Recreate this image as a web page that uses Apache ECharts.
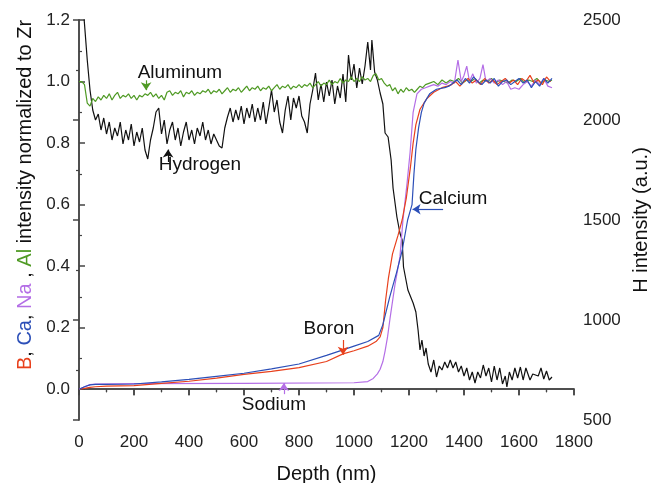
<!DOCTYPE html>
<html>
<head>
<meta charset="utf-8">
<title>Depth profile</title>
<style>
  html, body { margin: 0; padding: 0; background: #fff; }
  #main { width: 654px; height: 483px; }
</style>
</head>
<body>
<div id="main"></div>
<script src="https://cdn.jsdelivr.net/npm/echarts@6.0.0/dist/echarts.min.js"></script>
<script>
// depth (nm) / value pairs
var hydrogen = [[0,2900],[10,2650],[20,2480],[30,2300],[40,2150],[50,2050],[60,2000],[70,2030],[80,1950],[90,2010],[100,1930],[110,1990],[120,1900],[130,1960],[140,1920],[150,1990],[160,1880],[170,1950],[180,1900],[190,1980],[200,1870],[210,1940],[220,1890],[230,1960],[240,1850],[250,1805],[260,1900],[270,1960],[280,2040],[290,2060],[300,1930],[310,2000],[320,1880],[330,1950],[340,1990],[350,1900],[360,1960],[370,1870],[380,1940],[390,1990],[400,1900],[410,1950],[420,1880],[430,1960],[440,1920],[450,1990],[460,1900],[470,1950],[480,1880],[490,1930],[500,1900],[510,1870],[520,1860],[530,1960],[540,2015],[550,2060],[560,1990],[570,2050],[580,2000],[590,2070],[600,1980],[610,2060],[620,2010],[630,2080],[640,1990],[650,2060],[660,2000],[670,2090],[680,1980],[690,2060],[700,2150],[710,2040],[720,2100],[730,1990],[740,1935],[750,2050],[760,2120],[770,2000],[780,2110],[790,2060],[800,2120],[810,2020],[820,1990],[830,1935],[840,2080],[850,2150],[860,2235],[870,2100],[880,2180],[890,2090],[900,2190],[910,2120],[920,2200],[930,2080],[940,2170],[950,2110],[960,2230],[970,2090],[980,2325],[990,2200],[1000,2280],[1010,2160],[1020,2260],[1030,2180],[1040,2270],[1050,2390],[1060,2250],[1065,2400],[1075,2240],[1085,2200],[1095,2135],[1105,2080],[1113,1935],[1124,1915],[1135,1800],[1142,1660],[1156,1515],[1167,1435],[1175,1400],[1180,1265],[1196,1150],[1215,1085],[1225,1040],[1233,950],[1240,850],[1247,900],[1255,820],[1262,860],[1270,780],[1280,740],[1290,800],[1300,715],[1310,770],[1320,750],[1330,790],[1340,760],[1350,800],[1360,760],[1370,790],[1380,740],[1390,770],[1400,720],[1410,760],[1420,700],[1430,740],[1440,685],[1450,740],[1460,710],[1470,775],[1480,720],[1490,760],[1500,690],[1510,770],[1520,700],[1530,760],[1540,680],[1550,720],[1556,665],[1565,740],[1575,700],[1585,760],[1595,710],[1605,765],[1615,700],[1625,760],[1635,720],[1640,700],[1650,730],[1660,725],[1670,720],[1680,760],[1690,705],[1700,745],[1710,700],[1720,715]];

var aluminum = [[0,1.0],[10,1.0],[20,0.99],[30,0.93],[40,0.92],[50,0.945],[60,0.935],[70,0.95],[80,0.94],[90,0.955],[100,0.945],[110,0.96],[120,0.94],[130,0.955],[140,0.965],[150,0.945],[160,0.955],[170,0.95],[180,0.96],[190,0.945],[200,0.955],[210,0.94],[220,0.955],[230,0.95],[240,0.96],[250,0.955],[260,0.965],[270,0.95],[280,0.96],[290,0.945],[300,0.955],[310,0.94],[320,0.965],[330,0.97],[340,0.955],[350,0.965],[360,0.96],[370,0.97],[380,0.95],[390,0.965],[400,0.96],[410,0.97],[420,0.955],[430,0.965],[440,0.96],[450,0.97],[460,0.965],[470,0.975],[480,0.96],[490,0.97],[500,0.965],[510,0.975],[520,0.96],[530,0.97],[540,0.98],[550,0.965],[560,0.975],[570,0.97],[580,0.98],[590,0.965],[600,0.975],[610,0.985],[620,0.97],[630,0.98],[640,0.975],[650,0.985],[660,0.97],[670,0.98],[680,0.975],[690,0.985],[700,0.97],[710,0.98],[720,0.99],[730,0.975],[740,0.985],[750,0.98],[760,0.99],[770,0.975],[780,0.985],[790,0.98],[800,0.99],[810,0.98],[820,0.99],[830,0.985],[840,0.995],[850,0.98],[860,0.99],[870,1.0],[880,0.985],[890,0.995],[900,0.99],[910,1.005],[920,0.99],[930,1.0],[940,0.995],[950,1.01],[960,0.995],[970,1.005],[980,1.0],[990,1.015],[1000,1.0],[1010,1.01],[1020,1.0],[1030,1.015],[1040,1.005],[1050,1.01],[1060,1.0],[1070,1.02],[1080,1.025],[1090,1.005],[1100,1.01],[1110,0.995],[1120,0.985],[1130,0.99],[1140,0.97],[1150,0.98],[1160,0.96],[1170,0.975],[1180,0.965],[1190,0.98],[1200,0.97],[1210,0.975],[1220,0.965],[1230,0.975],[1240,0.985],[1250,0.98],[1260,0.99],[1275,0.995],[1290,1.0],[1305,0.99],[1320,1.005],[1335,0.995],[1350,1.005],[1365,1.0],[1380,1.01],[1395,0.995],[1410,1.005],[1425,1.0],[1440,1.01],[1455,0.995],[1470,1.005],[1485,1.0],[1500,1.01],[1515,0.995],[1530,1.005],[1545,1.0],[1560,0.995],[1575,1.005],[1590,1.0],[1605,1.01],[1620,0.995],[1635,1.005],[1650,1.0],[1665,1.01],[1680,0.995],[1695,1.005],[1710,1.0],[1720,1.005]];

var sodium = [[0,0.0],[20,0.008],[40,0.015],[60,0.017],[200,0.018],[600,0.019],[1000,0.021],[1050,0.025],[1070,0.035],[1085,0.05],[1095,0.065],[1105,0.09],[1113,0.124],[1122,0.17],[1131,0.23],[1149,0.34],[1167,0.43],[1178,0.55],[1193,0.67],[1204,0.77],[1215,0.9],[1229,0.96],[1245,0.975],[1260,0.98],[1275,0.985],[1290,0.99],[1305,0.985],[1320,0.995],[1335,0.99],[1350,1.0],[1365,0.995],[1378,1.07],[1390,1.0],[1400,1.02],[1410,1.05],[1420,1.0],[1432,1.025],[1445,0.995],[1458,1.01],[1469,1.055],[1480,1.0],[1495,1.01],[1510,0.995],[1525,1.005],[1540,0.99],[1555,1.0],[1570,0.975],[1585,0.98],[1600,0.975],[1615,0.99],[1630,1.0],[1645,0.985],[1660,1.005],[1675,0.99],[1690,1.01],[1705,0.985],[1720,0.98]];

var boron = [[0,0.0],[20,0.003],[40,0.006],[60,0.008],[100,0.01],[200,0.012],[300,0.019],[400,0.026],[500,0.036],[600,0.048],[700,0.058],[800,0.07],[900,0.09],[960,0.115],[1000,0.125],[1050,0.14],[1080,0.155],[1095,0.17],[1105,0.2],[1115,0.29],[1125,0.36],[1140,0.44],[1160,0.5],[1175,0.55],[1190,0.62],[1205,0.72],[1215,0.8],[1225,0.86],[1240,0.91],[1265,0.945],[1290,0.965],[1320,0.98],[1340,0.985],[1355,0.99],[1370,1.0],[1385,0.985],[1400,1.0],[1415,1.01],[1430,0.995],[1445,1.005],[1460,0.99],[1475,1.01],[1490,0.995],[1505,1.005],[1520,0.99],[1535,1.0],[1550,1.01],[1565,0.995],[1580,1.005],[1595,0.99],[1610,1.01],[1625,1.0],[1640,1.02],[1655,0.995],[1670,1.005],[1685,0.99],[1700,1.015],[1715,1.0]];

var calcium = [[0,0.0],[20,0.008],[40,0.014],[60,0.016],[100,0.016],[200,0.017],[300,0.024],[400,0.032],[500,0.042],[600,0.052],[700,0.066],[800,0.082],[900,0.11],[960,0.128],[1000,0.14],[1050,0.155],[1090,0.175],[1105,0.21],[1130,0.3],[1155,0.38],[1175,0.45],[1195,0.55],[1211,0.6],[1218,0.7],[1225,0.78],[1235,0.85],[1245,0.9],[1255,0.93],[1275,0.96],[1300,0.975],[1330,0.98],[1345,0.985],[1360,0.995],[1375,1.005],[1390,0.99],[1405,1.01],[1420,0.995],[1435,1.015],[1450,1.0],[1465,0.99],[1480,1.005],[1495,0.995],[1510,1.01],[1525,0.985],[1540,1.0],[1555,1.005],[1570,0.99],[1585,1.0],[1600,1.01],[1615,0.995],[1630,1.005],[1645,0.98],[1660,1.0],[1675,0.985],[1690,1.01],[1705,0.995],[1720,1.01]];

var leftLabels = [0, 0.2, 0.4, 0.6, 0.8, 1.0, 1.2];
var leftMinor = [0.1, 0.3, 0.5, 0.7, 0.9, 1.1];

var RED = '#e8401c', BLUE = '#2c4fb8', PURPLE = '#b46ee6', GREEN = '#4f9a24', BLACK = '#111';
var FONT = 'Liberation Sans, Arial, sans-serif';
var AXIS_COLOR = '#444';
var TICK_FS = 17, NAME_FS = 20, NOTE_FS = 19;

function plain(v) { return String(v); }

function note(text, pos, tail, tip, color) {
  return {
    markPoint: {
      silent: true,
      symbol: 'circle', symbolSize: 1,
      itemStyle: { color: 'rgba(0,0,0,0)' },
      label: { show: true, position: 'inside', formatter: text, color: '#111', fontSize: NOTE_FS, fontFamily: FONT },
      data: [{ coord: pos }]
    },
    markLine: {
      silent: true,
      symbol: ['none', 'arrow'], symbolSize: 8,
      label: { show: false },
      lineStyle: { color: color, width: 1.2, type: 'solid' },
      itemStyle: { color: color },
      data: [[{ coord: tail }, { coord: tip }]]
    }
  };
}

function lineSeries(name, data, color, yIndex, extra) {
  var s = {
    name: name, type: 'line', data: data, yAxisIndex: yIndex,
    showSymbol: false, symbol: 'none', smooth: false,
    lineStyle: { color: color, width: 1.2 },
    itemStyle: { color: color },
    emphasis: { disabled: true },
    z: 3
  };
  if (extra) { s.markPoint = extra.markPoint; s.markLine = extra.markLine; }
  return s;
}

var chart = echarts.init(document.getElementById('main'));

var option = {
  animation: false,
  backgroundColor: '#fff',
  textStyle: { fontFamily: FONT },
  grid: { left: 79, right: 80, top: 20, bottom: 63, containLabel: false, outerBoundsMode: 'none' },
  xAxis: [
    {
      type: 'value', min: 0, max: 1800, interval: 200, position: 'bottom',
      name: 'Depth (nm)', nameLocation: 'middle', nameGap: 44,
      nameTextStyle: { fontSize: NAME_FS, color: '#111', fontFamily: FONT },
      axisLine: { lineStyle: { color: AXIS_COLOR, width: 1.5 } },
      axisTick: { inside: false, length: 6, lineStyle: { color: AXIS_COLOR, width: 1.5 } },
      minorTick: { show: true, splitNumber: 2, length: 3, lineStyle: { color: AXIS_COLOR, width: 1.2 } },
      axisLabel: { fontSize: TICK_FS, color: '#222', margin: 14, formatter: plain },
      splitLine: { show: false }
    },
    {
      type: 'value', min: 0, max: 1800, interval: 200, position: 'top',
      axisLine: { lineStyle: { color: AXIS_COLOR, width: 1.5 } },
      axisTick: { inside: true, length: 6, lineStyle: { color: AXIS_COLOR, width: 1.5 } },
      minorTick: { show: true, splitNumber: 2, length: 3, lineStyle: { color: AXIS_COLOR, width: 1.2 } },
      axisLabel: { show: false },
      splitLine: { show: false }
    }
  ],
  yAxis: [
    {
      type: 'value', min: -0.1, max: 1.2, position: 'left',
      name: '{r|B}, {b|Ca}, {p|Na} , {g|Al} intensity normalized to Zr',
      nameLocation: 'middle', nameGap: 44,
      nameTextStyle: {
        fontSize: NAME_FS, color: '#111', fontFamily: FONT,
        padding: [0, 0, 0, 50],
        rich: {
          r: { color: RED, fontSize: NAME_FS, fontFamily: FONT },
          b: { color: BLUE, fontSize: NAME_FS, fontFamily: FONT },
          p: { color: PURPLE, fontSize: NAME_FS, fontFamily: FONT },
          g: { color: GREEN, fontSize: NAME_FS, fontFamily: FONT }
        }
      },
      axisLine: { show: true, lineStyle: { color: AXIS_COLOR, width: 1.5 } },
      axisTick: { show: true, inside: true, length: 6, customValues: leftLabels, lineStyle: { color: AXIS_COLOR, width: 1.5 } },
      axisLabel: { customValues: leftLabels, fontSize: TICK_FS, color: '#222', margin: 9,
        formatter: function (v) { return v.toFixed(1); } },
      splitLine: { show: false }
    },
    {
      type: 'value', min: 500, max: 2500, interval: 500, position: 'right',
      name: 'H intensity (a.u.)', nameLocation: 'middle', nameGap: 54, nameRotate: 90,
      nameTextStyle: { fontSize: NAME_FS, color: '#111', fontFamily: FONT },
      axisLine: { show: true, lineStyle: { color: AXIS_COLOR, width: 1.5 } },
      axisTick: { show: true, inside: true, length: 6, lineStyle: { color: AXIS_COLOR, width: 1.5 } },
      minorTick: { show: true, splitNumber: 2, length: 3, lineStyle: { color: AXIS_COLOR, width: 1.2 } },
      axisLabel: { fontSize: TICK_FS, color: '#222', margin: 9, formatter: plain },
      splitLine: { show: false }
    },
    {
      type: 'value', min: -0.1, max: 1.2, position: 'left', offset: 0,
      axisLine: { show: false },
      axisTick: { show: true, inside: true, length: 3, customValues: leftMinor, lineStyle: { color: AXIS_COLOR, width: 1.2 } },
      axisLabel: { show: false },
      splitLine: { show: false }
    }
  ],
  series: [
    lineSeries('Hydrogen', hydrogen, BLACK, 1, note('Hydrogen', [440, 1775], [324, 1790], [324, 1852], BLACK)),
    lineSeries('Aluminum', aluminum, GREEN, 0, note('Aluminum', [367, 1.03], [244, 1.004], [244, 0.972], GREEN)),
    lineSeries('Sodium', sodium, PURPLE, 0, note('Sodium', [709, -0.05], [745, -0.016], [745, 0.02], PURPLE)),
    lineSeries('Boron', boron, RED, 0, note('Boron', [909, 0.198], [960, 0.16], [960, 0.112], RED)),
    lineSeries('Calcium', calcium, BLUE, 0, note('Calcium', [1360, 0.62], [1324, 0.585], [1213, 0.585], BLUE))
  ]
};

chart.setOption(option);
</script>
</body>
</html>
